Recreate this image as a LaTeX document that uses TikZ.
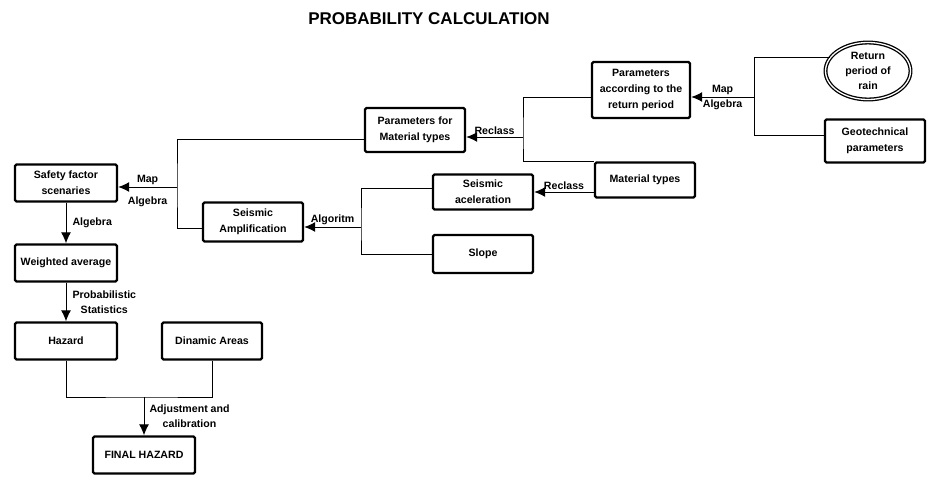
\documentclass[tikz,border=0pt]{standalone}
\usepackage{fontspec}
\setmainfont{Liberation Sans}
\usetikzlibrary{arrows.meta}
\usetikzlibrary{shapes.geometric, positioning}
\tikzset{
    box/.style={
        rectangle,
        draw=black,
        line width=2.4pt,
        rounded corners=1.5pt,
        minimum width=100pt,
        minimum height=37pt,
        align=center,
        inner sep=1pt,
        font=\fontsize{10.6}{16}\selectfont\bfseries
    },
    arrow/.style={
        -{Latex[length=11pt,width=10pt]},
        line width=1pt,
        draw=black
    },
    link/.style={line width=1pt, draw=black},
    lbl/.style={inner sep=1pt, font=\fontsize{10.6}{15}\selectfont\bfseries}
}

\begin{document}
\begin{tikzpicture}[x=1pt, y=-1pt]
\useasboundingbox (0,0) rectangle (947,477);

% 1. Title
\node[font=\fontsize{17}{20}\selectfont\bfseries] (title) at (429,19) {PROBABILITY CALCULATION};

% 2. Inputs on the right
\node[ellipse, draw=black, double, double distance=1.3pt, line width=1.3pt,
      minimum width=85pt, minimum height=57pt, inner sep=0pt, align=center,
      font=\fontsize{10.6}{15}\selectfont\bfseries] (rain) at (868,71) {Return\\period of\\rain};
\node[box, minimum height=43pt] (geo) at (875,141) {Geotechnical\\parameters};
\node[box, minimum width=98pt, minimum height=56pt] (parRet) at (641,90) {Parameters\\according to the\\return period};
\node[box, minimum height=35pt] (mat) at (645,180) {Material types};

% 3. Middle column
\node[box, minimum height=44pt] (parMat) at (415,130) {Parameters for\\Material types};
\node[box, minimum height=35pt] (seisAc) at (483,192) {Seismic\\aceleration};
\node[box, minimum height=38pt] (slope) at (483,254) {Slope};
\node[box, minimum height=39pt] (seisAmp) at (253,222) {Seismic\\Amplification};

% 4. Left column
\node[box, minimum width=102pt] (safety) at (66,183) {Safety factor\\scenaries};
\node[box, minimum width=102pt] (weighted) at (66,263) {Weighted average};
\node[box, minimum width=102pt] (hazard) at (66,341) {Hazard};
\node[box] (dinamic) at (212,341) {Dinamic Areas};
\node[box, minimum width=102pt] (final) at (144,455) {FINAL HAZARD};

% 5. Connections
\coordinate (mapJ) at (754,97);
\draw[link] (rain.160) -| (mapJ) |- ([yshift=6pt]geo.west);
\draw[arrow] (mapJ) -- (parRet.east |- mapJ)
    node[lbl, midway, above=1pt] {Map}
    node[lbl, midway, below=1pt] {Algebra};

\coordinate (recJ) at (523,137);
\draw[link] ([yshift=-7pt]parRet.west) -| (recJ) |- (mat.north west);
\draw[arrow] (recJ) -- (parMat.east |- recJ) node[lbl, midway, above=1pt] {Reclass};

\draw[arrow] (mat.west |- seisAc.east) -- (seisAc.east) node[lbl, midway, above=1pt] {Reclass};

\coordinate (algJ) at (361,227);
\draw[link] ([yshift=4pt]seisAc.west) -| (algJ) |- (slope.west);
\draw[arrow] (algJ) -- (seisAmp.east |- algJ) node[lbl, midway, above=1pt] {Algoritm};

\coordinate (mapJ2) at (177,187);
\draw[link] ([yshift=-9pt]parMat.west) -| (mapJ2) |- ([yshift=-6pt]seisAmp.west);
\draw[arrow] (mapJ2) -- (safety.east |- mapJ2)
    node[lbl, midway, above=1pt] {Map}
    node[lbl, midway, below=8pt] {Algebra};

\draw[arrow] (safety) -- (weighted) node[lbl, midway, right=5pt] {Algebra};
\draw[arrow] (weighted) -- (hazard) node[lbl, midway, right=5pt, align=center] {Probabilistic\\Statistics};

\coordinate (adjJ) at (144,397);
\draw[link] (hazard.south) |- (adjJ) -| (dinamic.south);
\draw[arrow] (adjJ) -- (final.north) node[lbl, midway, right=4pt, align=center] {Adjustment and\\calibration};

\end{tikzpicture}
\end{document}
